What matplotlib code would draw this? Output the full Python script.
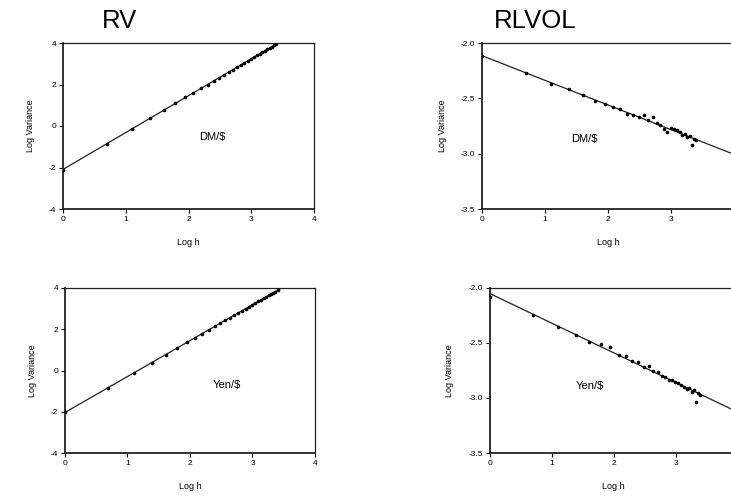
import numpy as np
import matplotlib
matplotlib.use("Agg")
import matplotlib.pyplot as plt

plt.rcParams['font.family'] = ['Liberation Sans', 'DejaVu Sans']

# --- DATOS ---
log_h = [0.000, 0.693, 1.099, 1.386, 1.609, 1.792, 1.946, 2.079, 2.197, 2.303,
         2.398, 2.485, 2.565, 2.639, 2.708, 2.773, 2.833, 2.890, 2.944, 2.996,
         3.045, 3.091, 3.135, 3.178, 3.219, 3.258, 3.296, 3.332, 3.367, 3.401]

rv_dm = [-2.10, -0.86, -0.14, 0.38, 0.76, 1.09, 1.38, 1.60, 1.82, 2.00,
         2.17, 2.33, 2.46, 2.60, 2.72, 2.83, 2.94, 3.05, 3.14, 3.24,
         3.31, 3.41, 3.48, 3.56, 3.63, 3.70, 3.76, 3.83, 3.89, 3.95]

rv_yen = [-2.03, -0.83, -0.12, 0.38, 0.77, 1.08, 1.36, 1.59, 1.79, 1.98,
          2.14, 2.30, 2.43, 2.56, 2.68, 2.80, 2.90, 3.00, 3.09, 3.18,
          3.27, 3.35, 3.43, 3.50, 3.57, 3.64, 3.71, 3.77, 3.83, 3.89]

rlvol_dm = [-2.12, -2.27, -2.37, -2.42, -2.47, -2.52, -2.555, -2.58, -2.60, -2.64,
            -2.65, -2.67, -2.65, -2.70, -2.67, -2.72, -2.74, -2.78, -2.80, -2.77,
            -2.78, -2.79, -2.80, -2.83, -2.82, -2.85, -2.84, -2.92, -2.87, -2.88]

rlvol_yen = [-2.09, -2.25, -2.36, -2.43, -2.49, -2.51, -2.54, -2.61, -2.625, -2.67,
             -2.675, -2.72, -2.715, -2.76, -2.77, -2.80, -2.81, -2.84, -2.84, -2.855,
             -2.87, -2.88, -2.90, -2.92, -2.91, -2.95, -2.93, -3.04, -2.96, -2.97]

rv_ticks = [-4, -2, 0, 2, 4]
rlvol_ticks = [-3.5, -3.0, -2.5, -2.0]
x_ticks = [0, 1, 2, 3, 4]

fig = plt.figure(figsize=(7.31, 5.00), dpi=100)

paneles = [
    # (pos, y, ylim, yticks, etiqueta, pos etiqueta)
    ([0.0862, 0.582, 0.3434, 0.332], rv_dm, (-4, 4), rv_ticks, 'DM/$', (2.38, -0.53)),
    ([0.6594, 0.582, 0.3447, 0.332], rlvol_dm, (-3.5, -2.0), rlvol_ticks, 'DM/$', (1.63, -2.87)),
    ([0.0889, 0.094, 0.3420, 0.330], rv_yen, (-4, 4), rv_ticks, 'Yen/$', (2.59, -0.71)),
    ([0.6700, 0.094, 0.3390, 0.331], rlvol_yen, (-3.5, -2.0), rlvol_ticks, 'Yen/$', (1.62, -2.89)),
]

for pos, y, ylim, yticks, etiqueta, (tx, ty) in paneles:
    ax = fig.add_axes(pos)
    # recta ajustada
    b, a = np.polyfit(log_h, y, 1)
    xx = np.array([0, 4])
    ax.plot(xx, a + b * xx, color='#222222', linewidth=0.9, zorder=2)
    ax.plot(log_h, y, 'o', color='black', markersize=1.6, zorder=3)

    ax.set_xlim(0, 4)
    ax.set_ylim(*ylim)
    ax.set_xticks(x_ticks)
    ax.set_yticks(yticks)
    if ylim[0] == -4:
        ax.set_yticklabels([str(t) for t in yticks])
    else:
        ax.set_yticklabels([f'{t:.1f}' for t in yticks])
    ax.tick_params(labelsize=6, length=3, width=0.8, direction='out', pad=2)
    for s in ax.spines.values():
        s.set_linewidth(0.9)
        s.set_color('#222222')
    ax.spines['left'].set_linewidth(1.3)
    ax.spines['bottom'].set_linewidth(1.3)

    ax.set_xlabel('Log h', fontsize=6.5, labelpad=11)
    ax.set_ylabel('Log Variance', fontsize=6.5, labelpad=10)
    ax.text(tx, ty, etiqueta, fontsize=8, ha='center', va='center')

fig.text(0.164, 0.957, 'RV', fontsize=18.5, ha='center', va='center')
fig.text(0.732, 0.957, 'RLVOL', fontsize=18.5, ha='center', va='center')

fig.savefig('out.png', dpi=100, facecolor='white')
